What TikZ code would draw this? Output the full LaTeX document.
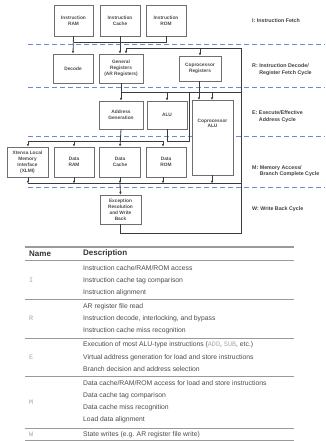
\documentclass[tikz,border=0pt]{standalone}
\usepackage{fontspec}
\setmainfont{Liberation Sans}
\newfontfamily\monof{Liberation Mono}
\usetikzlibrary{arrows.meta}
\definecolor{boxline}{HTML}{6E6E6E}
\definecolor{wire}{HTML}{3A3A3A}
\definecolor{dashblue}{HTML}{6F88D8}
\definecolor{tabtext}{HTML}{4A4A4A}
\definecolor{tabline}{HTML}{9A9A9A}
\tikzset{
  blk/.style={draw=boxline, line width=0.8pt, fill=white, inner sep=0.3pt,
    align=center, font=\fontsize{4.8}{5.9}\selectfont\bfseries, text=black!70},
  wr/.style={draw=wire, line width=0.8pt},
  arr/.style={wr, -{Latex[length=2.6pt,width=2.4pt]}},
  stage/.style={dashblue, line width=0.9pt, dash pattern=on 5pt off 3pt},
  lbl/.style={anchor=west, align=left, font=\fontsize{5.3}{6.6}\selectfont\bfseries, text=black!75, inner sep=0pt},
  td/.style={anchor=west, inner sep=0pt, font=\fontsize{6.8}{8}\selectfont, text=tabtext},
  tn/.style={anchor=west, inner sep=0pt, font=\fontsize{6.8}{8}\selectfont\monof, text=black!35},
  th/.style={anchor=west, inner sep=0pt, font=\fontsize{8}{9}\selectfont\bfseries, text=black!80},
  tl/.style={draw=tabline, line width=0.7pt}
}
\begin{document}
\begin{tikzpicture}[x=1pt,y=-1pt]
\useasboundingbox (0,0) rectangle (325,441);
% stage separators
\foreach \yy in {44.5,87.5,136.5,187.5} \draw[stage] (28,\yy) -- (325,\yy);
% boxes
\node[blk, minimum width=39pt, minimum height=31pt] (iram) at (73.5,20.5) {Instruction\\RAM};
\node[blk, minimum width=40pt, minimum height=31pt] (icache) at (120,20.5) {Instruction\\Cache};
\node[blk, minimum width=40pt, minimum height=31pt] (irom) at (166,20.5) {Instruction\\ROM};
\node[blk, minimum width=40pt, minimum height=29pt] (decode) at (73,68.5) {Decode};
\node[blk, minimum width=44pt, minimum height=29pt] (genreg) at (121,68.5) {General\\Registers\\(AR Registers)};
\node[blk, minimum width=42pt, minimum height=25pt] (copreg) at (200,68.5) {Coprocessor\\Registers};
\node[blk, minimum width=44pt, minimum height=28pt] (addrgen) at (121,115) {Address\\Generation};
\node[blk, minimum width=40pt, minimum height=28pt] (alu) at (167,115) {ALU};
\node[blk, minimum width=41pt, minimum height=75pt] (copalu) at (212.5,137.5) {};
\node[blk, anchor=north, draw=none, fill=none] (copalut) at (212.5,118) {Coprocessor\\ALU};
\node[blk, minimum width=41pt, minimum height=30pt] (xlmi) at (27.5,162) {Xtensa Local\\Memory\\Interface\\(XLMI)};
\node[blk, minimum width=40pt, minimum height=30pt] (dram) at (74,162) {Data\\RAM};
\node[blk, minimum width=41pt, minimum height=30pt] (dcache) at (120,162) {Data\\Cache};
\node[blk, minimum width=40pt, minimum height=30pt] (drom) at (166,162) {Data\\ROM};
\node[blk, minimum width=41pt, minimum height=29pt] (exc) at (120.5,209.5) {Exception\\Resolution\\and Write\\Back};
% bus coordinates
\coordinate (fbus) at (74,42);
\coordinate (rtop) at (241,48);
\coordinate (rbot) at (241,233);
\coordinate (ebus) at (241,92);
\coordinate (mbusL) at (28,141);
\coordinate (wbusL) at (28,183.5);
\coordinate (wbusR) at (241,183.5);
% fetch
\draw[arr] (iram.south) -- (decode.north);
\draw[arr] (icache.south) -- (icache.south |- genreg.north);
\draw[wr] (irom.south) |- (fbus);
% write-back loop and top bus
\draw[wr] (exc.south) |- (rbot) -- (rtop);
\draw[arr] (rtop) -| ([xshift=5pt]genreg.north);
\draw[arr] (copreg.north |- rtop) -- (copreg.north);
% E bus
\draw[arr] (genreg.south) -- (addrgen.north);
\draw[wr] (genreg.south |- ebus) -- (ebus);
\draw[arr] (alu.north |- ebus) -- (alu.north);
\draw[arr] (copreg.south -| 199,0) -- (199,100);
\draw[arr] (212,92) -- (212,100);
% ALU feedback
\draw[wr] (alu.south) |- (189,141.5) -- (189,92);
% M bus
\draw[arr] (addrgen.south) -- (dcache.north);
\draw[wr] (mbusL) -- (163,141);
\draw[arr] (mbusL) -- (xlmi.north -| mbusL);
\draw[arr] (74,141) -- (dram.north);
\draw[arr] (163,141) -- (drom.north -| 163,0);
% W bus
\draw[wr] (wbusL) -- (wbusR);
\draw[arr] (xlmi.south -| wbusL) -- (wbusL);
\draw[arr] (dram.south) -- (dram.south |- wbusL);
\draw[arr] (dcache.south) -- (dcache.south |- wbusL);
\draw[arr] (dcache.south |- wbusL) -- (exc.north);
\draw[arr] (163,177) -- (163,183.5);
\draw[arr] (212,175) -- (212,183.5);
% stage labels
\node[lbl] (lI) at (252,21) {I: Instruction Fetch};
\node[lbl] (lR) at (252,69.5) {R: Instruction Decode/\\\phantom{R: }Register Fetch Cycle};
\node[lbl] (lE) at (252,116.5) {E: Execute/Effective\\\phantom{E: }Address Cycle};
\node[lbl] (lM) at (252,171) {M: Memory Access/\\\phantom{M: }Branch Complete Cycle};
\node[lbl] (lW) at (252,209) {W: Write Back Cycle};
% table
\draw[tl, line width=1.4pt] (25,247) -- (294,247);
\node[th] (hn) at (29,253.5) {Name};
\node[th] (hd) at (83,253.5) {Description};
\draw[tl] (25,260) -- (294,260);
\node[td] (i1) at (83,268) {Instruction cache/RAM/ROM access};
\node[td] (i2) at (83,280.5) {Instruction cache tag comparison};
\node[td] (i3) at (83,293) {Instruction alignment};
\node[tn] (nI) at (29,280.5) {I};
\draw[tl] (25,299.5) -- (294,299.5);
\node[td] (r1) at (83,306.5) {AR register file read};
\node[td] (r2) at (83,318.5) {Instruction decode, interlocking, and bypass};
\node[td] (r3) at (83,330.5) {Instruction cache miss recognition};
\node[tn] (nR) at (29,318.5) {R};
\draw[tl] (25,338) -- (294,338);
\node[td] (e1) at (83,345) {Execution of most ALU-type instructions ({\monof\color{black!35}ADD}, {\monof\color{black!35}SUB}, etc.)};
\node[td] (e2) at (83,357.5) {Virtual address generation for load and store instructions};
\node[td] (e3) at (83,369.5) {Branch decision and address selection};
\node[tn] (nE) at (29,357.5) {E};
\draw[tl] (25,376.5) -- (294,376.5);
\node[td] (m1) at (83,383.5) {Data cache/RAM/ROM access for load and store instructions};
\node[td] (m2) at (83,395.5) {Data cache tag comparison};
\node[td] (m3) at (83,408) {Data cache miss recognition};
\node[td] (m4) at (83,420) {Load data alignment};
\node[tn] (nM) at (29,402) {M};
\draw[tl] (25,428) -- (294,428);
\node[td] (w1) at (83,434.5) {State writes (e.g. AR register file write)};
\node[tn] (nW) at (29,434.5) {W};
\draw[tl, line width=0.5pt] (25,440.5) -- (294,440.5);
\end{tikzpicture}
\end{document}
